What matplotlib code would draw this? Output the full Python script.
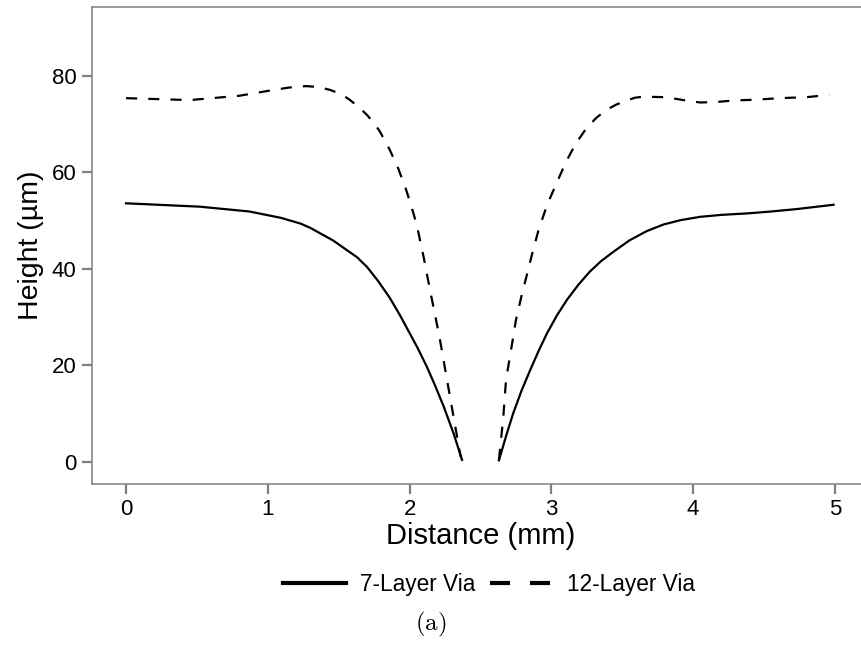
import matplotlib
matplotlib.use("Agg")
import matplotlib.pyplot as plt
from matplotlib.lines import Line2D

# ---- data ----
x7_left = [0.00, 0.52, 0.87, 1.09, 1.23, 1.30, 1.46, 1.63, 1.70, 1.78, 1.86, 1.93, 2.00, 2.06, 2.12, 2.18, 2.24, 2.31, 2.37]
y7_left = [53.6, 52.9, 51.9, 50.6, 49.4, 48.5, 45.9, 42.4, 40.4, 37.4, 34.0, 30.5, 26.7, 23.4, 19.8, 15.8, 11.5, 5.9, 0.4]
x7_right = [2.63, 2.68, 2.73, 2.79, 2.85, 2.91, 2.97, 3.04, 3.11, 3.19, 3.27, 3.35, 3.44, 3.55, 3.67, 3.79, 3.91, 4.05, 4.20, 4.38, 4.55, 4.73, 4.99]
y7_right = [0.3, 5.3, 10.0, 14.8, 19.0, 23.0, 26.7, 30.4, 33.6, 36.7, 39.4, 41.6, 43.6, 45.9, 47.8, 49.2, 50.1, 50.8, 51.2, 51.5, 51.9, 52.4, 53.3]
x12_left = [0.00, 0.45, 0.80, 1.02, 1.15, 1.27, 1.36, 1.44, 1.52, 1.58, 1.64, 1.70, 1.75, 1.79, 1.86, 1.92, 1.97, 2.01, 2.05, 2.10, 2.14, 2.21, 2.28, 2.33, 2.36]
y12_left = [75.4, 75.0, 75.9, 77.0, 77.6, 77.9, 77.7, 77.1, 76.2, 75.0, 73.6, 71.9, 70.2, 68.5, 64.7, 60.8, 56.9, 53.2, 49.2, 42.3, 36.2, 26.0, 14.3, 6.0, 1.0]
x12_right = [2.63, 2.66, 2.68, 2.72, 2.75, 2.79, 2.83, 2.87, 2.91, 2.97, 3.04, 3.10, 3.17, 3.25, 3.32, 3.39, 3.46, 3.53, 3.59, 3.65, 3.81, 3.93, 4.05, 4.16, 4.28, 4.45, 4.61, 4.80, 4.96]
y12_right = [0.4, 9.0, 17.0, 24.0, 29.4, 34.5, 39.1, 43.8, 48.1, 53.3, 58.0, 62.0, 65.9, 69.3, 71.4, 73.0, 74.1, 74.9, 75.5, 75.7, 75.6, 75.0, 74.5, 74.6, 74.9, 75.1, 75.4, 75.6, 76.1]

x_ticks = [0, 1, 2, 3, 4, 5]
y_ticks = [0, 20, 40, 60, 80]
series_labels = ["7-Layer Via", "12-Layer Via"]

plt.rcParams['font.family'] = ['Liberation Sans', 'DejaVu Sans']

fig = plt.figure(figsize=(8.62, 6.48), dpi=100)
ax = fig.add_axes([92/862, 1-484/648, (869-92)/862, (484-7)/648])

dash = (5, 5)
lw = 1.6
ax.plot(x7_left, y7_left, color='black', lw=lw)
ax.plot(x7_right, y7_right, color='black', lw=lw)
ax.plot(x12_left, y12_left, color='black', lw=lw, linestyle=(0, dash))
ax.plot(x12_right, y12_right, color='black', lw=lw, linestyle=(0, dash))

ax.set_xlim(-0.24, 5.24)
ax.set_ylim(-4.6, 94.3)
ax.set_xticks(x_ticks)
ax.set_yticks(y_ticks)

spine_col = '#808080'
for s in ['left', 'bottom', 'top']:
    ax.spines[s].set_color(spine_col)
    ax.spines[s].set_linewidth(1.1)
ax.spines['right'].set_visible(False)
ax.tick_params(axis='both', direction='out', length=7, width=1.6, color=spine_col,
               labelsize=16, labelcolor='black', pad=4)

ax.set_xlabel("Distance (mm)", fontsize=21, labelpad=1)
ax.set_ylabel("Height (µm)", fontsize=20.5, labelpad=6)

handles = [Line2D([], [], color='black', lw=3),
           Line2D([], [], color='black', lw=3, linestyle=(0, (4.8, 4.8)))]
fig.legend(handles, series_labels, loc='center', bbox_to_anchor=(489/862, 1-584/648),
           ncol=2, frameon=False, fontsize=16.3, handlelength=2.8,
           handletextpad=0.62, columnspacing=0.65)

fig.text(431/862, 1-624/648, r"$\mathrm{(a)}$", ha='center', va='center',
         fontsize=18, math_fontfamily='cm')

fig.savefig("out.png", dpi=100)
